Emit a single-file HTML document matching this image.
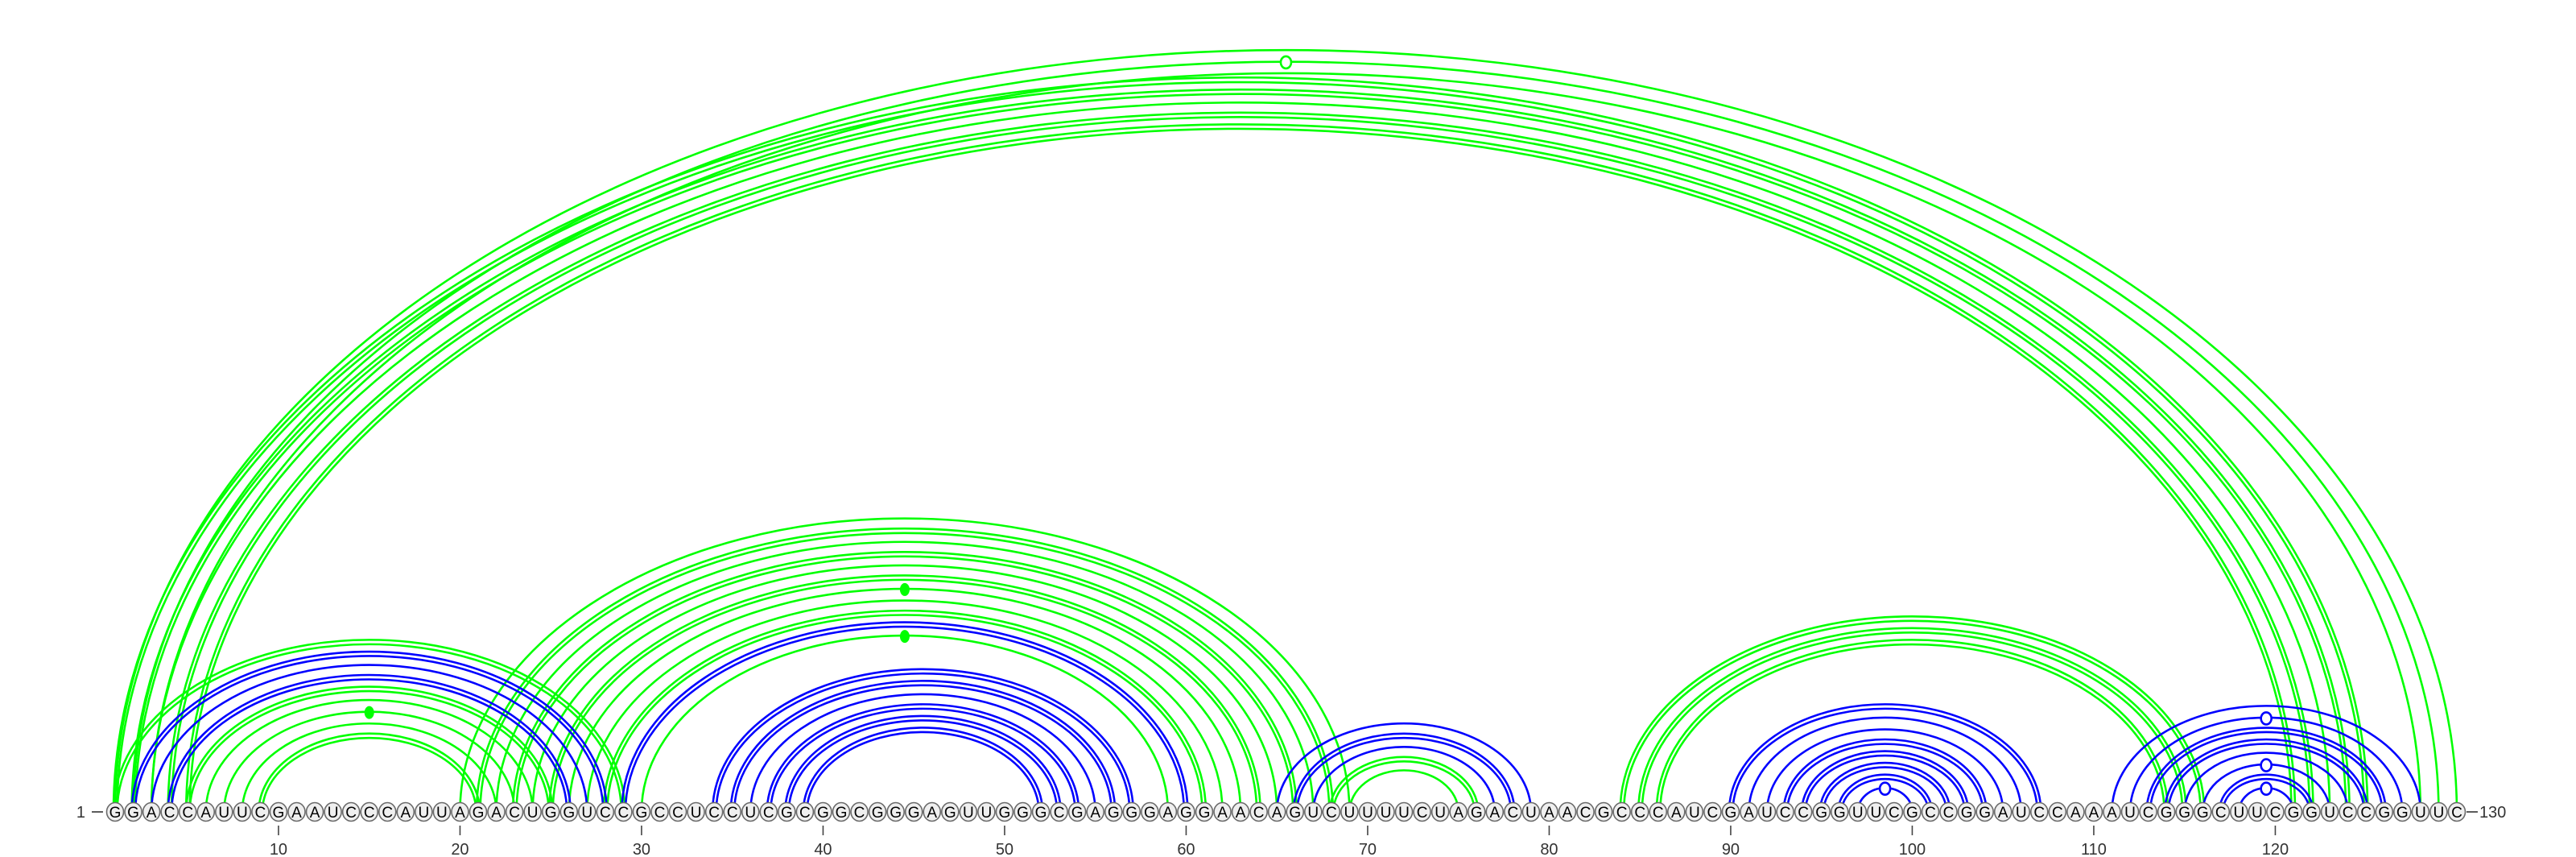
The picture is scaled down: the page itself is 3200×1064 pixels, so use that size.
<!DOCTYPE html>
<html><head><meta charset="utf-8"><title>RNA arc diagram</title>
<style>
html,body{margin:0;padding:0;background:#fff;}
svg{display:block;font-family:"Liberation Sans",sans-serif;}
</style></head>
<body>
<svg id="chart" width="3200" height="1064" viewBox="0 0 3200 1064" xmlns="http://www.w3.org/2000/svg">
<g id="arcs"></g>
<g id="markers"></g>
<g id="nts"></g>
<g id="axis"></g>
</svg>
<script>
const sequence = "GGACCAUUCGAAUCCCAUUAGACUGGUCCGCCUCCUCGCGGCGGGAGUUGGGCGAGGGAGGAACAGUCUUUUCUAGACUAACGCCCAUCGAUCCGGUUCGCCGGAUCCAAAUCGGGCUUCGGUCCGGUUC";
const greenPairs = [[1,130],[2,129],[3,128],[1,125],[2,124],[3,123],[4,122],[5,121],
  [1,29],[5,25],[6,24],[7,23],[8,22],[9,21],
  [20,69],[21,68],[22,67],[23,66],[24,65],[25,64],[26,63],[27,62],[28,61],[30,59],
  [68,76],[69,75],[84,116],[85,115],[86,114]];
const greenDoubles = [[1,125],[2,124],[4,122],[5,121],[1,29],[5,25],[9,21],[21,68],[23,66],[25,64],[28,61],[68,76],[84,116],[85,115],[86,114]];
const bluePairs = [[2,28],[3,27],[4,26],[29,60],[34,57],[35,56],[36,55],[37,54],[38,53],[39,52],
  [65,79],[66,78],[67,77],
  [90,107],[91,106],[92,105],[93,104],[94,103],[95,102],[96,101],[97,100],
  [111,128],[112,127],[113,126],[114,125],[115,124],[116,123],[117,122],[118,121]];
const blueDoubles = [[2,28],[4,26],[29,60],[34,57],[35,56],[37,54],[38,53],[39,52],[66,78],[90,107],[93,104],[94,103],[95,102],[96,101],[113,126],[114,125],[117,122]];
const openMarkers = [["g",2,129],["b",97,100],["b",112,127],["b",116,123],["b",118,121]];
const filledMarkers = [["g",7,23],["g",26,63],["g",30,59]];
const tickLabels = [10,20,30,40,50,60,70,80,90,100,110,120];

const NS = "http://www.w3.org/2000/svg";
const X0 = 143, STEP = 22.55, BASE = 1008;
const COL = {g:"#00ff00", b:"#0000ff"};
function xPos(k){ return X0 + (k-1)*STEP; }
function arcH(i,j){ const r=(xPos(j)-xPos(i))/2; return 0.645*r+8; }
function isIn(list,i,j){ return list.some(p=>p[0]===i&&p[1]===j); }
function mk(tag,attrs,parent){ const e=document.createElementNS(NS,tag); for(const k in attrs) e.setAttribute(k,attrs[k]); parent.appendChild(e); return e; }

const arcsG = document.getElementById("arcs");
function drawArc(i,j,color,inset,dh,name){
  const x1=xPos(i)+inset, x2=xPos(j)-inset;
  const r=(x2-x1)/2, h=arcH(i,j)-dh;
  const p = mk("path",{d:`M${x1},${BASE} A${r},${h} 0 0 1 ${x2},${BASE}`,fill:"none",stroke:color,"stroke-width":2.6},arcsG);
  
  
}
function drawSet(pairs,doubles,color,prefix){
  pairs.forEach(([i,j])=>{
    if(isIn(doubles,i,j)){
      drawArc(i,j,color,-2,-2,prefix+"-arc-"+i+"-"+j);
      drawArc(i,j,color,2.5,3.5,prefix+"-arc-"+i+"-"+j+"-b");
    } else {
      drawArc(i,j,color,0,0,prefix+"-arc-"+i+"-"+j);
    }
  });
}
drawSet(greenPairs,greenDoubles,COL.g,"green");
drawSet(bluePairs,blueDoubles,COL.b,"blue");

const mG = document.getElementById("markers");
openMarkers.forEach(([c,i,j])=>{
  const e = mk("ellipse",{cx:(xPos(i)+xPos(j))/2,cy:BASE-arcH(i,j)+1,rx:6.5,ry:7.5,fill:"#fff",stroke:COL[c],"stroke-width":2.6},mG);
  
  
});
filledMarkers.forEach(([c,i,j])=>{
  const e = mk("ellipse",{cx:(xPos(i)+xPos(j))/2,cy:BASE-arcH(i,j)+1,rx:6,ry:8,fill:COL[c]},mG);
  
  
});

const nG = document.getElementById("nts");
for(let k=1;k<=sequence.length;k++){
  const x=xPos(k);
  const e = mk("ellipse",{cx:x,cy:BASE,rx:10.5,ry:11.5,fill:"#efefef",stroke:"#6a6a6a","stroke-width":1.6},nG);
  
  
  const t = mk("text",{x:x,y:BASE+7,"text-anchor":"middle","font-size":19,fill:"#000"},nG);
  t.textContent = sequence[k-1];
  
  
}

const aG = document.getElementById("axis");
tickLabels.forEach(n=>{
  const x=xPos(n);
  const l = mk("line",{x1:x,x2:x,y1:1025,y2:1037,stroke:"#444","stroke-width":1.6},aG);
  
  
  const t = mk("text",{x:x,y:1061,"text-anchor":"middle","font-size":20,fill:"#333"},aG);
  t.textContent = n;
  
  
});
const s1 = mk("text",{x:106,y:1015,"text-anchor":"end","font-size":20,fill:"#333"},aG);
s1.textContent = "1";


const d1 = mk("line",{x1:114,x2:128,y1:BASE,y2:BASE,stroke:"#333","stroke-width":1.6},aG);


const d2 = mk("line",{x1:xPos(130)+12,x2:xPos(130)+26,y1:BASE,y2:BASE,stroke:"#333","stroke-width":1.6},aG);


const s2 = mk("text",{x:xPos(130)+28,y:1015,"text-anchor":"start","font-size":20,fill:"#333"},aG);
s2.textContent = "130";


</script>
</body></html>
